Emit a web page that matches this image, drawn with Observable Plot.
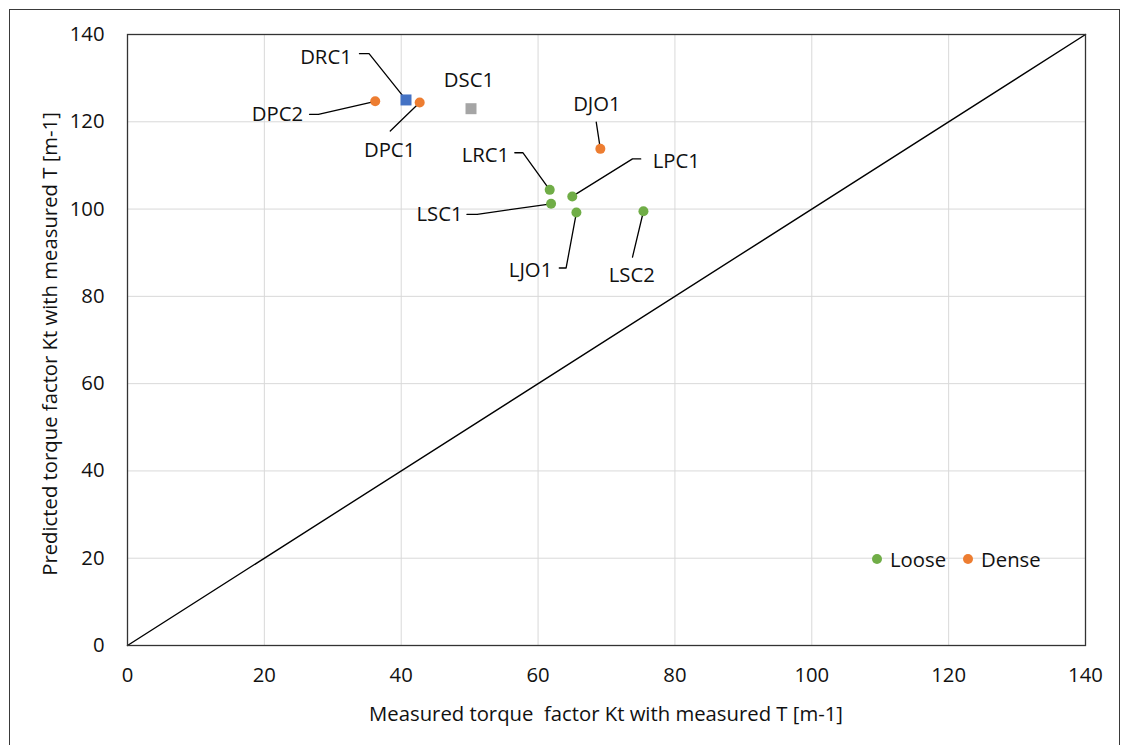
<!DOCTYPE html>
<html>
<head>
<meta charset="utf-8">
<script src="https://cdn.jsdelivr.net/npm/d3@7"></script>
<script src="https://cdn.jsdelivr.net/npm/@observablehq/plot@0.6"></script>
<style>
  html, body { margin: 0; padding: 0; background: #fff; }
  body { width: 1125px; height: 745px; position: relative; overflow: hidden; font-family: "Open Sans", sans-serif; color: #111; }
  #frame { position: absolute; left: 9px; top: 9px; width: 1111px; height: 760px; border: 1px solid #3a3a3a; box-sizing: border-box; }
  #chart { position: absolute; left: 0; top: 0; }
  .title { position: absolute; font-size: 20.3px; white-space: pre; color: #111; }
  #xtitle { left: 606px; top: 713px; transform: translate(-50%, -50%); }
  #ytitle { left: 49px; top: 344px; transform: translate(-50%, -50%) rotate(-90deg); }
  #legend { position: absolute; left: 872px; top: 559px; transform: translateY(-50%); display: flex; align-items: center; font-size: 20.3px; }
  .sw { display: inline-block; width: 10px; height: 10px; border-radius: 50%; margin-right: 8px; }
  .item { display: flex; align-items: center; margin-right: 17px; }
</style>
</head>
<body>
<div id="frame"></div>
<div id="chart"></div>
<div id="xtitle" class="title">Measured torque  factor Kt with measured T [m-1]</div>
<div id="ytitle" class="title">Predicted torque factor Kt with measured T [m-1]</div>
<div id="legend"></div>
<script>
// ---- Data ----
const names     = ["DPC2", "DRC1", "DPC1", "DSC1", "DJO1", "LRC1", "LSC1", "LPC1", "LJO1", "LSC2"];
const measured  = [36.2, 40.7, 42.7, 50.2, 69.1, 61.7, 61.9, 65.0, 65.6, 75.4];
const predicted = [124.7, 125.0, 124.4, 123.0, 113.8, 104.4, 101.2, 102.9, 99.2, 99.5];
const groups    = ["Dense", "DRC", "Dense", "DSC", "Dense", "Loose", "Loose", "Loose", "Loose", "Loose"];

// data label anchor positions (data units), as placed in the original chart
const labelX    = [21.9, 29.0, 38.3, 49.9, 68.6, 52.3, 45.6, 80.2, 58.9, 73.7];
const labelY    = [121.7, 134.7, 113.4, 129.5, 124.0, 112.3, 98.8, 111.0, 85.9, 84.8];
// leader line start and elbow (data units); null = no leader
const leadX0    = [26.6, 33.9, 38.4, null, 68.5, 56.6, 49.6, 75.0, 63.1, 73.8];
const leadY0    = [121.7, 135.6, 117.9, null, 119.9, 112.9, 98.8, 111.5, 86.5, 89.0];
const leadX1    = [27.9, 35.3, 38.4, null, 68.5, 57.8, 51.1, 73.8, 64.1, 73.8];
const leadY1    = [121.7, 135.6, 117.9, null, 119.9, 112.9, 98.8, 111.5, 86.5, 89.0];

const ticks = [0, 20, 40, 60, 80, 100, 120, 140];
const identityLine = [0, 140];
const legendItems = ["Loose", "Dense"];

const colors = { Loose: "#70AD47", Dense: "#ED7D31", DRC: "#4472C4", DSC: "#A5A5A5" };

// ---- Build tables ----
const pts = names.map((n, i) => ({ name: n, x: measured[i], y: predicted[i], g: groups[i], lx: labelX[i], ly: labelY[i] }));
const leaders = [];
names.forEach((n, i) => {
  if (leadX0[i] == null) return;
  leaders.push({ name: n, x: leadX0[i], y: leadY0[i] });
  leaders.push({ name: n, x: leadX1[i], y: leadY1[i] });
  leaders.push({ name: n, x: measured[i], y: predicted[i] });
});
const circles = pts.filter(d => d.g === "Dense" || d.g === "Loose");
const squares = pts.filter(d => d.g === "DRC" || d.g === "DSC");
const diag = identityLine.map(v => ({ x: v, y: v }));

const FS = 20.3;
const chart = Plot.plot({
  width: 1125,
  height: 745,
  marginLeft: 127,
  marginRight: 40,
  marginTop: 34,
  marginBottom: 100,
  style: { fontFamily: "Open Sans, sans-serif", fontSize: FS + "px", color: "#111", background: "transparent" },
  x: { domain: [0, 140], ticks },
  y: { domain: [0, 140], ticks },
  marks: [
    Plot.gridX(ticks, { stroke: "#d9d9d9", strokeOpacity: 1, strokeWidth: 1 }),
    Plot.gridY(ticks, { stroke: "#d9d9d9", strokeOpacity: 1, strokeWidth: 1 }),
    Plot.axisX(ticks, { tickSize: 0, tickPadding: 22, label: null, fontSize: FS, fill: "#111" }),
    Plot.axisY(ticks, { tickSize: 0, tickPadding: 23, label: null, fontSize: FS, fill: "#111" }),
    Plot.line(diag, { x: "x", y: "y", stroke: "#000", strokeWidth: 1.4 }),
    Plot.line(leaders, { x: "x", y: "y", z: "name", stroke: "#000", strokeWidth: 1.3 }),
    Plot.dot(circles, { x: "x", y: "y", r: 5, fill: d => colors[d.g], stroke: "none" }),
    Plot.dot(squares, { x: "x", y: "y", symbol: "square", r: 6.2, fill: d => colors[d.g], stroke: "none" }),
    Plot.text(pts, { x: "lx", y: "ly", text: "name", fontSize: FS, fill: "#111", textAnchor: "middle" }),
    Plot.frame({ stroke: "#333", strokeWidth: 1.3 })
  ]
});
document.getElementById("chart").appendChild(chart);

// legend (Loose, Dense only, as in the original)
const lg = document.getElementById("legend");
legendItems.forEach(k => {
  const it = document.createElement("span");
  it.className = "item";
  it.innerHTML = `<span class="sw" style="background:${colors[k]}"></span><span>${k}</span>`;
  lg.appendChild(it);
});
</script>
</body>
</html>
